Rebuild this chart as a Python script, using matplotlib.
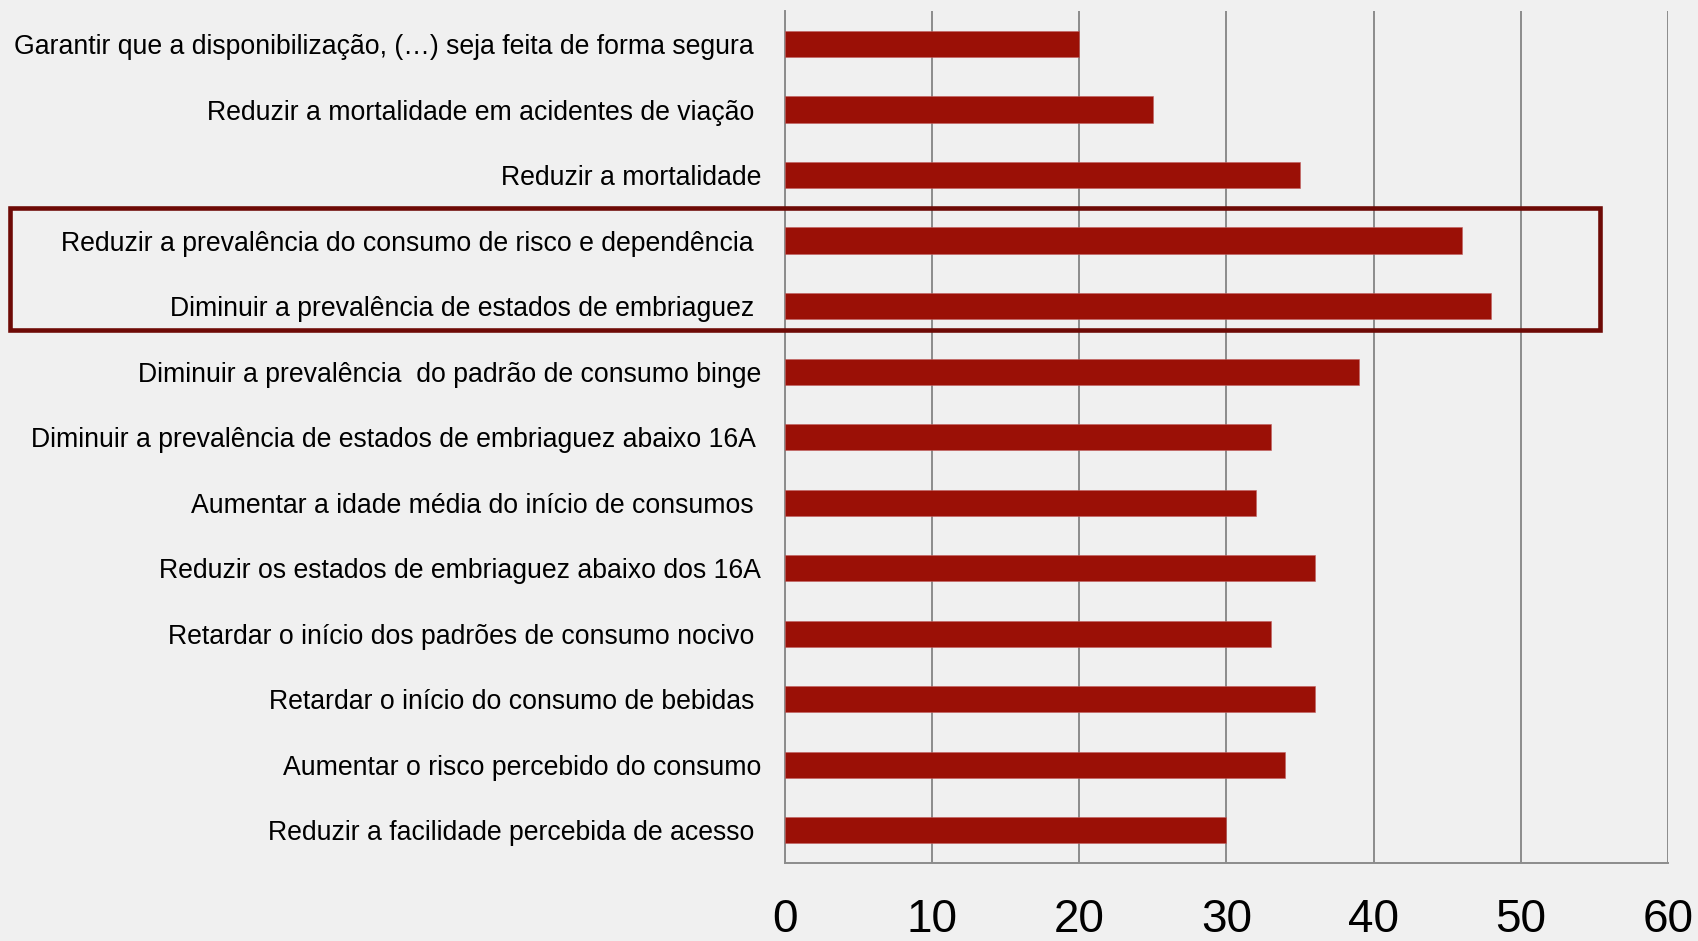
import matplotlib
matplotlib.use("Agg")
import matplotlib.pyplot as plt
from matplotlib.patches import Rectangle
from matplotlib.transforms import blended_transform_factory

categories = [
    "Garantir que a disponibilização, (…) seja feita de forma segura ",
    "Reduzir a mortalidade em acidentes de viação ",
    "Reduzir a mortalidade",
    "Reduzir a prevalência do consumo de risco e dependência ",
    "Diminuir a prevalência de estados de embriaguez ",
    "Diminuir a prevalência  do padrão de consumo binge",
    "Diminuir a prevalência de estados de embriaguez abaixo 16A ",
    "Aumentar a idade média do início de consumos ",
    "Reduzir os estados de embriaguez abaixo dos 16A",
    "Retardar o início dos padrões de consumo nocivo ",
    "Retardar o início do consumo de bebidas ",
    "Aumentar o risco percebido do consumo",
    "Reduzir a facilidade percebida de acesso ",
]
values = [20, 25, 35, 46, 48, 39, 33, 32, 36, 33, 36, 34, 30]
xticks = [0, 10, 20, 30, 40, 50, 60]
highlight = [3, 4]

plt.rcParams['font.family'] = ['Liberation Sans', 'DejaVu Sans']
bg = "#f0f0f0"
fig = plt.figure(figsize=(16.98, 9.41), dpi=100, facecolor=bg)
ax = fig.add_axes([0.4623, 0.0829, 0.52, 0.9051])
ax.set_facecolor(bg)

y = list(range(len(categories)))
ax.barh(y, values, height=0.4, color="#9b1006", edgecolor="#c06060", linewidth=0.4, zorder=3)
ax.set_ylim(len(categories) - 0.5, -0.5)
ax.set_xlim(0, 60)
ax.set_xticks(xticks)
ax.set_xticklabels([str(t) for t in xticks], fontsize=33)
ax.set_yticks(y)
ax.set_yticklabels(categories, fontsize=19.2)
ax.tick_params(axis='y', length=0, pad=17)
ax.tick_params(axis='x', length=0, pad=25)
ax.grid(axis='x', color="#8c8c8c", linewidth=1.4, zorder=1)
ax.grid(axis='y', visible=False)
for s in ['top', 'right']:
    ax.spines[s].set_visible(False)
for s in ['left', 'bottom']:
    ax.spines[s].set_color("#8c8c8c")
    ax.spines[s].set_linewidth(1.4)

tr = blended_transform_factory(fig.transFigure, ax.transData)
y0 = highlight[0] - 0.5
y1 = highlight[-1] + 0.36
rect = Rectangle((0.006, y0), 0.942 - 0.006, y1 - y0, transform=tr, fill=False,
                 edgecolor="#6e0a06", linewidth=3.3, clip_on=False, zorder=5)
fig.patches.append(rect)

fig.savefig("out.png", dpi=100, facecolor=bg)
